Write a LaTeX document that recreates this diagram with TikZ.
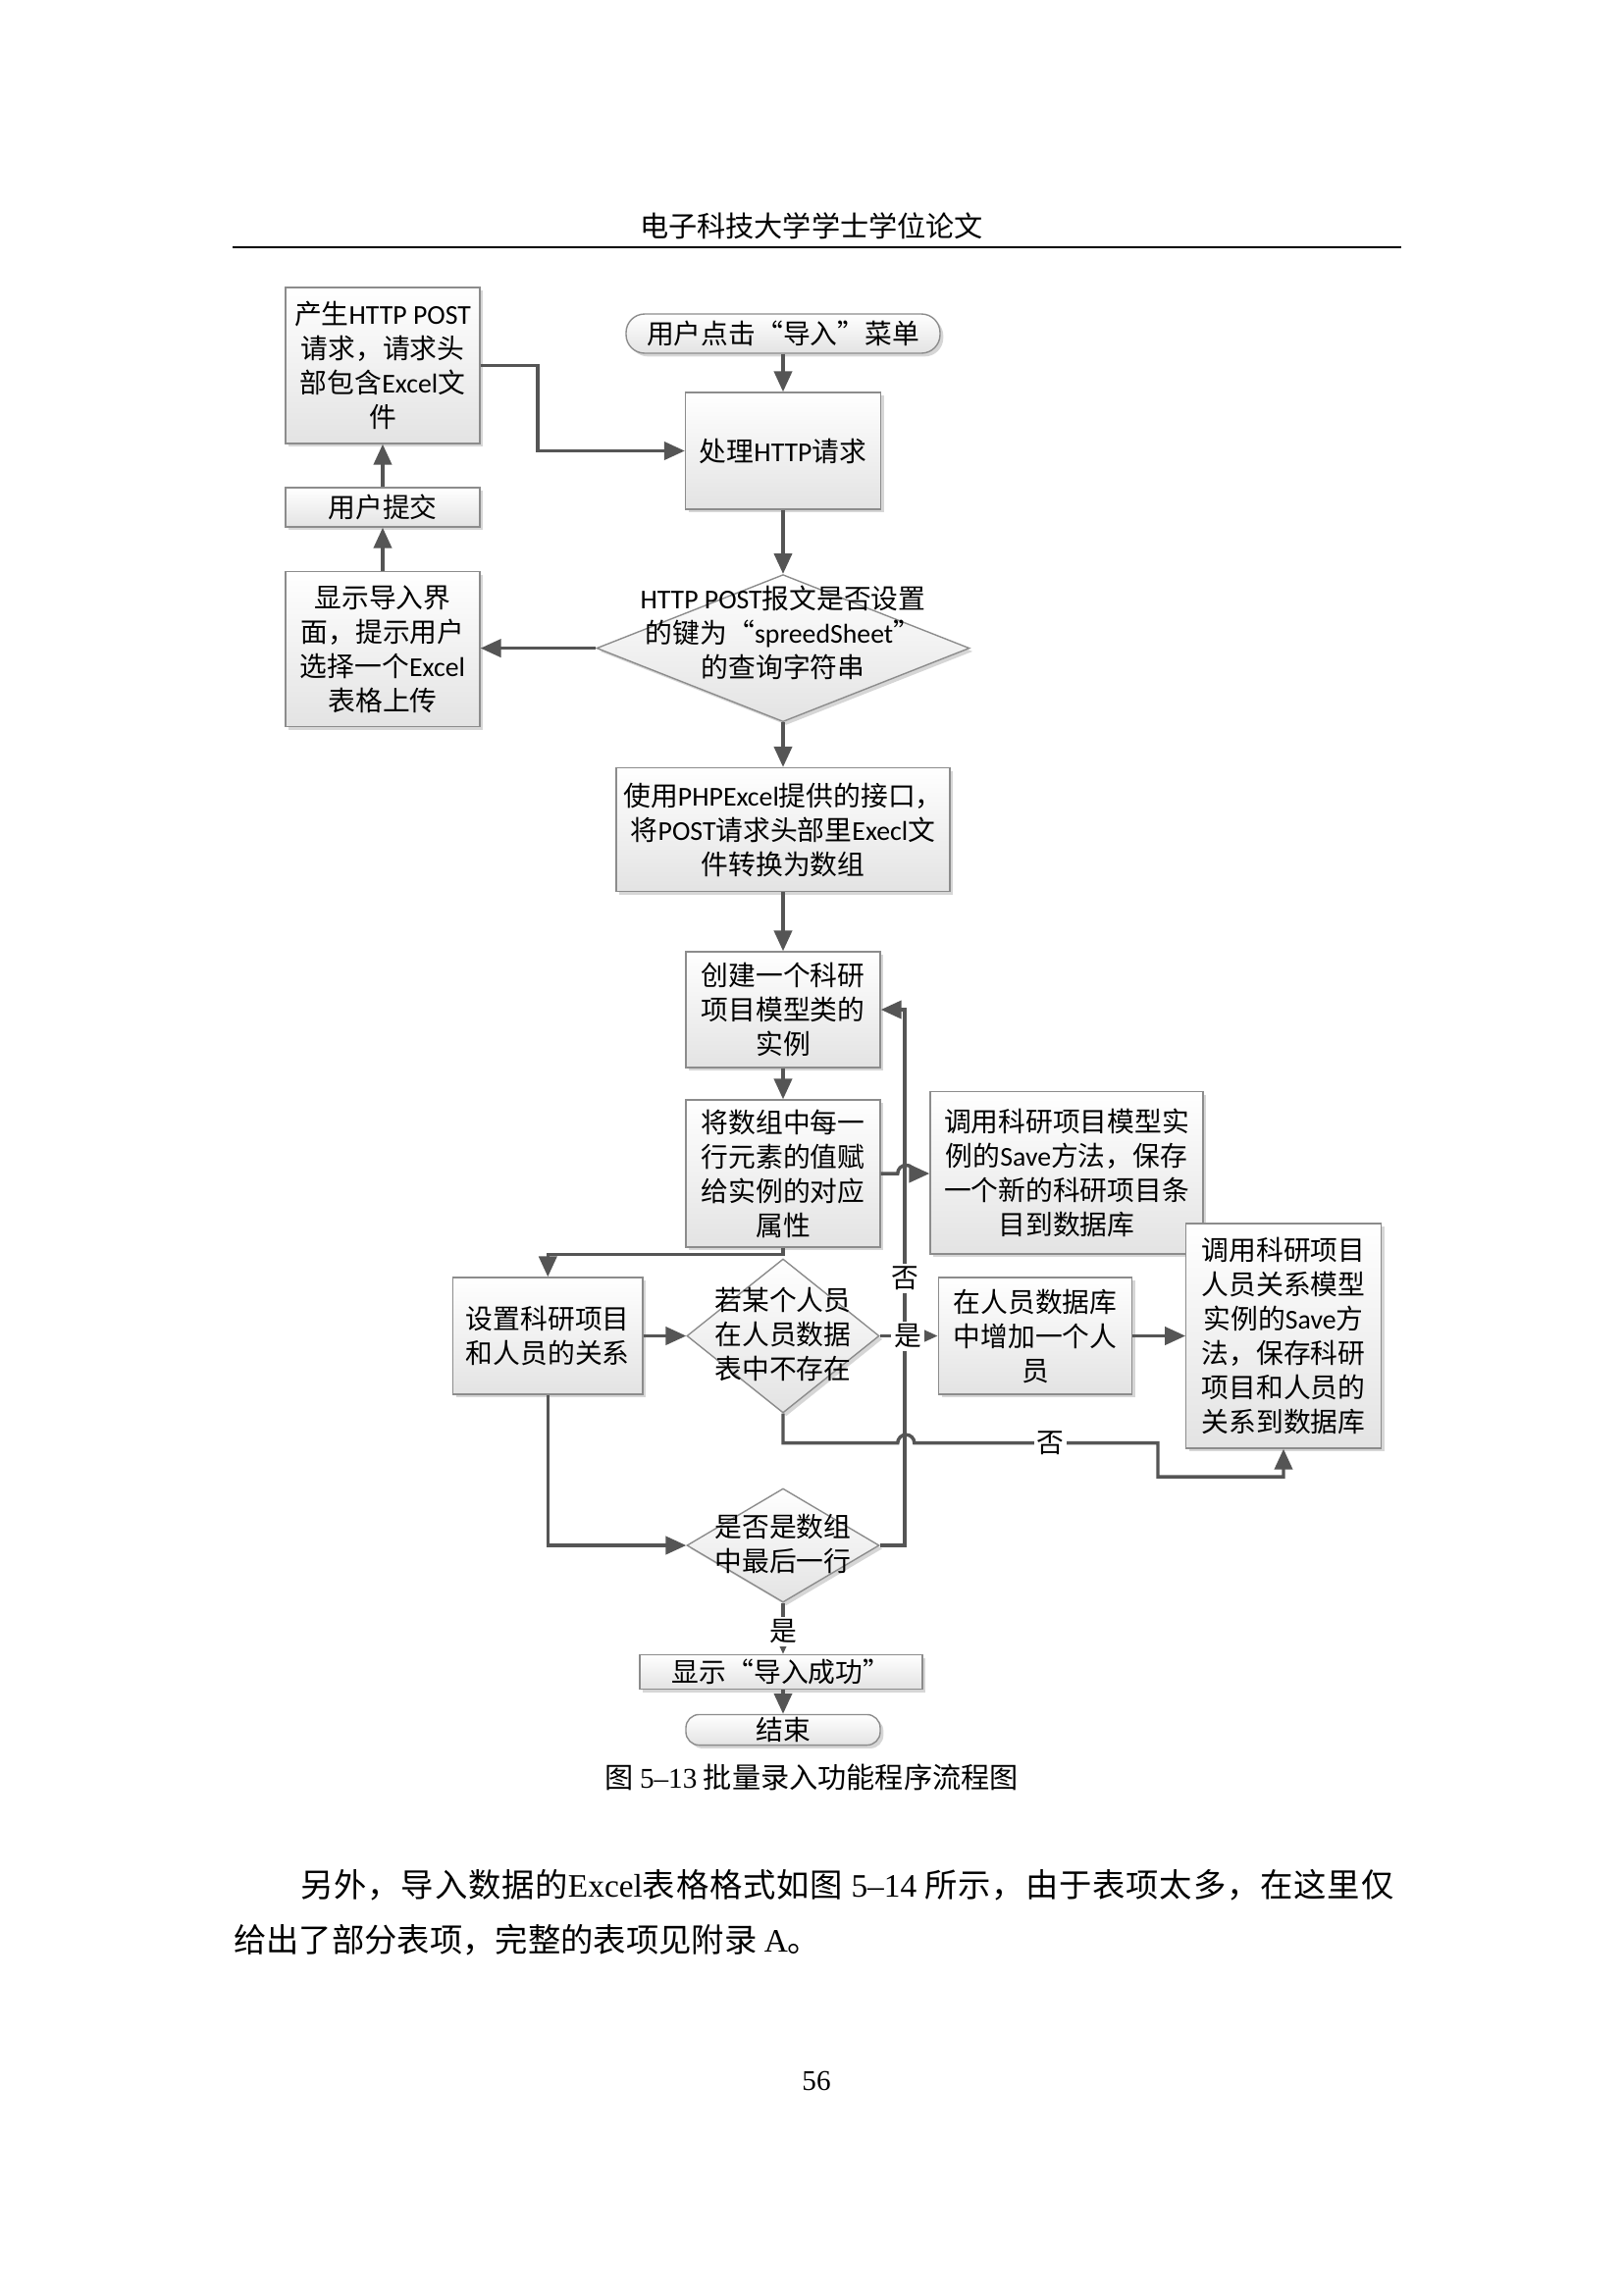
\documentclass[tikz,border=0pt]{standalone}
\usepackage{fontspec}
\setmainfont{Noto Sans CJK SC}
\newfontfamily\enfont{Carlito}
\newfontfamily\tmfont{Liberation Serif}
\newfontfamily\zhwide{Noto Sans CJK SC}[LetterSpace=2.6]
\newcommand{\en}[1]{{\enfont #1}}
\newcommand{\rmn}[1]{{\tmfont #1}}
\usetikzlibrary{arrows.meta,shapes.geometric,shadows}
\definecolor{linegray}{HTML}{555555}
\definecolor{boxline}{HTML}{8C8C8C}
\definecolor{boxbottom}{HTML}{E3E3E3}
\definecolor{shadowgray}{HTML}{D6D6D6}
\newdimen\pxu \pxu=0.36pt

\begin{document}
\begin{tikzpicture}[x=0.36pt,y=0.36pt,
	box/.style={rectangle,draw=boxline,line width=0.5pt,top color=white,bottom color=boxbottom,
		drop shadow={shadow xshift=1.2pt,shadow yshift=-1.2pt,fill=shadowgray,opacity=1},
		inner sep=1pt,align=center,font=\fontsize{10}{12.6}\selectfont},
	chk/.style={diamond,draw=boxline,line width=0.5pt,top color=white,bottom color=boxbottom,
		drop shadow={shadow xshift=1.2pt,shadow yshift=-1.2pt,fill=shadowgray,opacity=1},
		inner sep=0pt},
	txt/.style={align=center,inner sep=0pt,font=\fontsize{10}{12.6}\selectfont},
	lbl/.style={fill=white,inner sep=1pt,font=\fontsize{10}{12}\selectfont},
	arr/.style={draw=linegray,line width=1.25pt,-{Triangle[length=7.5pt,width=6.5pt]}},
	page/.style={inner sep=0pt,font=\fontsize{10.5}{12}\selectfont}]
	\useasboundingbox (0,0) rectangle (1654,-2339);
	\node[page] (header) at (827,-230) {电子科技大学学士学位论文};
	\draw[line width=0.6pt] (237,-252) -- (1428,-252);
	\node[box,minimum width=198\pxu,minimum height=159\pxu] (genPost) at (390,-372.5) {产生\en{HTTP POST}\\请求，请求头\\部包含\en{Excel}文\\件};
	\node[box,rounded corners=19\pxu,minimum width=320\pxu,minimum height=40\pxu] (start) at (798,-340) {用户点击“导入”菜单};
	\node[box,minimum width=199\pxu,minimum height=119\pxu] (handle) at (798,-459.5) {处理\en{HTTP}请求};
	\node[box,minimum width=198\pxu,minimum height=40\pxu] (submit) at (390,-517) {用户提交};
	\node[box,minimum width=198\pxu,minimum height=158\pxu] (showUI) at (390,-661.7) {显示导入界\\面，提示用户\\选择一个\en{Excel}\\表格上传};
	\node[chk,minimum width=380\pxu,minimum height=150\pxu] (chk1) at (798,-660.6) {};
	\node[txt] (chk1txt) at (798,-645) {\en{HTTP POST}报文是否设置\\的键为“\en{spreedSheet}”\\的查询字符串};
	\node[box,minimum width=340\pxu,minimum height=126\pxu] (parse) at (798,-845.5) {使用\en{PHPExcel}提供的接口，\\将\en{POST}请求头部里\en{Execl}文\\件转换为数组};
	\node[box,minimum width=198\pxu,minimum height=118\pxu] (create) at (798,-1029) {创建一个科研\\项目模型类的\\实例};
	\node[box,minimum width=198\pxu,minimum height=150\pxu] (assign) at (798,-1196) {将数组中每一\\行元素的值赋\\给实例的对应\\属性};
	\node[box,minimum width=278\pxu,minimum height=165.5\pxu] (saveProj) at (1087,-1195.3) {调用科研项目模型实\\例的\en{Save}方法，保存\\一个新的科研项目条\\目到数据库};
	\node[box,minimum width=193.4\pxu,minimum height=119\pxu] (setRel) at (558.3,-1361.5) {设置科研项目\\和人员的关系};
	\node[chk,minimum width=196\pxu,minimum height=157\pxu] (chk2) at (798,-1361.5) {};
	\node[txt] (chk2txt) at (798,-1360) {若某个人员\\在人员数据\\表中不存在};
	\node[box,minimum width=197.5\pxu,minimum height=119\pxu] (addPerson) at (1055,-1361.5) {在人员数据库\\中增加一个人\\员};
	\node[box,minimum width=198.5\pxu,minimum height=229\pxu] (saveRel) at (1308,-1361.5) {调用科研项目\\人员关系模型\\实例的\en{Save}方\\法，保存科研\\项目和人员的\\关系到数据库};
	\node[chk,minimum width=196\pxu,minimum height=116\pxu] (chk3) at (798,-1575) {};
	\node[txt] (chk3txt) at (798,-1573) {是否是数组\\中最后一行};
	\node[box,minimum width=288\pxu,minimum height=35\pxu] (done) at (796,-1704) {显示“导入成功”};
	\node[box,rounded corners=13.5\pxu,minimum width=198\pxu,minimum height=28\pxu] (stop) at (798,-1763) {结束};
	\draw[arr] (start.south) -- (handle.north);
	\draw[arr] (genPost.east) -- ++(58.5,0) |- (handle.west);
	\draw[arr] (handle.south) -- (chk1.north);
	\draw[arr] (chk1.west) -- (showUI.east |- chk1.west);
	\draw[arr] (showUI.north) -- (submit.south);
	\draw[arr] (submit.north) -- (genPost.south);
	\draw[arr] (chk1.south) -- (parse.north);
	\draw[arr] (parse.south) -- (create.north);
	\draw[arr] (create.south) -- (assign.north);
	\draw[arr] (chk3.east) -- ++(25.3,0) |- (create.east);
	\draw[arr] (assign.east) -- (914.8,-1196) arc[start angle=180,end angle=0,radius=8.5] -- (saveProj.west |- assign.east);
	\draw[arr] (assign.south) -- ++(0,-6.7) -| (setRel.north);
	\draw[arr] (setRel.east) -- (chk2.west);
	\draw[arr] (chk2.east) -- (addPerson.west);
	\draw[arr] (addPerson.east) -- (saveRel.west);
	\draw[arr] (chk2.south) -- (798,-1470.7) -- (914.8,-1470.7) arc[start angle=180,end angle=0,radius=8.5] -- (1180,-1470.7) -- (1180,-1505) -| (saveRel.south);
	\draw[arr] (setRel.south) |- (chk3.west);
	\draw[arr] (chk3.south) -- (chk3.south |- done.north);
	\draw[arr] (done.south -| stop.north) -- (stop.north);
	\node[lbl] (no1) at (922.7,-1303) {否};
	\node[lbl] (yes1) at (925,-1361.5) {是};
	\node[lbl] (no2) at (1070.7,-1470.7) {否};
	\node[lbl] (yes2) at (798,-1663) {是};
	\node[page] (caption) at (827,-1811.7) {图 \rmn{5–13} 批量录入功能程序流程图};
	\node[inner sep=0pt,anchor=west,font=\fontsize{12}{14}\selectfont] (para1) at (305.7,-1921) {\zhwide 另外，导入数据的\rmn{Excel}表格格式如图 \rmn{5–14} 所示，由于表项太多，在这里仅};
	\node[inner sep=0pt,anchor=west,font=\fontsize{12}{14}\selectfont] (para2) at (237.5,-1977.6) {给出了部分表项，完整的表项见附录 \rmn{A}。};
	\node[page] (pageno) at (832,-2121) {\rmn{56}};
\end{tikzpicture}
\end{document}
